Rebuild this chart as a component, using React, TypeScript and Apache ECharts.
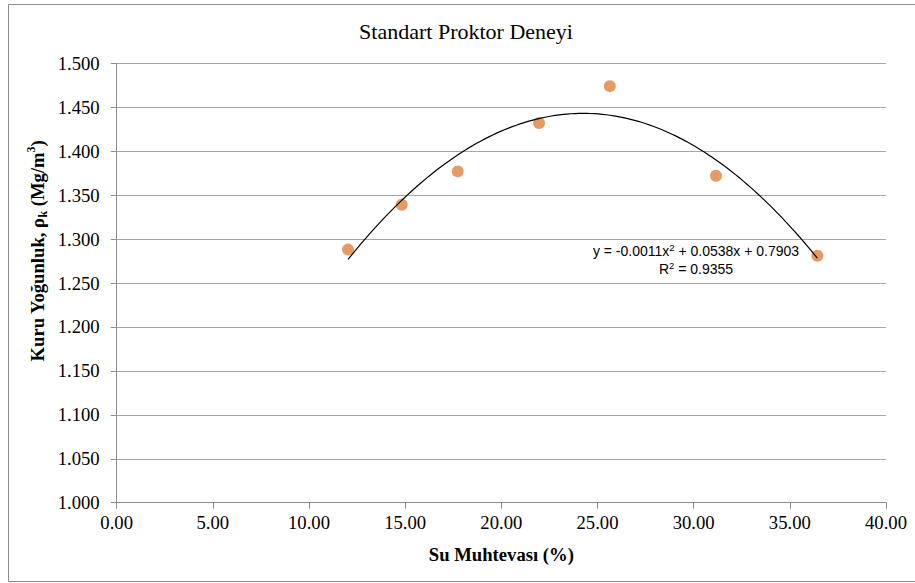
import React, { useEffect, useRef } from "react";
import * as echarts from "echarts";

const titleText = "Standart Proktor Deneyi";
const xAxisName = "Su Muhtevası (%)";
const waterContent = [12.03, 14.82, 17.73, 21.96, 25.64, 31.16, 36.43];
const dryDensity = [1.288, 1.339, 1.377, 1.432, 1.474, 1.372, 1.281];
const equationLabel = "y = -0.0011x{sup|2} + 0.0538x + 0.7903";
const r2Label = "R{sup|2} = 0.9355";

// least-squares quadratic fit of the data (like the spreadsheet's trendline)
function quadFit(xs: number[], ys: number[]) {
  const n = xs.length;
  let s0 = n, s1 = 0, s2 = 0, s3 = 0, s4 = 0, t0 = 0, t1 = 0, t2 = 0;
  for (let i = 0; i < n; i++) {
    const x = xs[i], y = ys[i];
    s1 += x; s2 += x * x; s3 += x * x * x; s4 += x * x * x * x;
    t0 += y; t1 += x * y; t2 += x * x * y;
  }
  const M = [
    [s0, s1, s2, t0],
    [s1, s2, s3, t1],
    [s2, s3, s4, t2],
  ];
  for (let c = 0; c < 3; c++) {
    for (let r = c + 1; r < 3; r++) {
      const f = M[r][c] / M[c][c];
      for (let k = c; k < 4; k++) M[r][k] -= f * M[c][k];
    }
  }
  const sol = [0, 0, 0];
  for (let r = 2; r >= 0; r--) {
    let v = M[r][3];
    for (let k = r + 1; k < 3; k++) v -= M[r][k] * sol[k];
    sol[r] = v / M[r][r];
  }
  return sol; // c0, c1, c2
}

export default function App() {
  const ref = useRef<HTMLDivElement>(null);
  useEffect(() => {
    if (!ref.current) return;
    const chart = echarts.init(ref.current, undefined, { renderer: "svg" });
    const [c0, c1, c2] = quadFit(waterContent, dryDensity);
    const xMin = Math.min(...waterContent);
    const xMax = Math.max(...waterContent);
    const trend: number[][] = [];
    const steps = 120;
    for (let i = 0; i <= steps; i++) {
      const x = xMin + ((xMax - xMin) * i) / steps;
      trend.push([x, c0 + c1 * x + c2 * x * x]);
    }
    const serif = "Liberation Serif, serif";
    const sans = "Liberation Sans, sans-serif";
    chart.setOption({
      animation: false,
      backgroundColor: "#ffffff",
      title: {
        text: titleText,
        left: 461,
        top: 15,
        textAlign: "center",
        textStyle: { fontFamily: serif, fontSize: 22, fontWeight: "normal", color: "#000" },
      },
      grid: { left: 116.7, right: 29, top: 63.3, bottom: 80.3, containLabel: false },
      xAxis: {
        type: "value",
        min: 0,
        max: 40,
        interval: 5,
        name: xAxisName,
        nameLocation: "middle",
        nameGap: 42,
        nameTextStyle: { fontFamily: serif, fontSize: 18.67, fontWeight: "bold", color: "#000" },
        axisLine: { show: true, lineStyle: { color: "#8c8c8c", width: 1 } },
        axisTick: { show: true, length: 6, lineStyle: { color: "#8c8c8c" } },
        axisLabel: {
          margin: 10,
          fontFamily: serif,
          fontSize: 18.67,
          color: "#000",
          formatter: (v: number) => v.toFixed(2),
        },
        splitLine: { show: false },
      },
      yAxis: {
        type: "value",
        min: 1.0,
        max: 1.5,
        interval: 0.05,
        axisLine: { show: true, lineStyle: { color: "#8c8c8c", width: 1 } },
        axisTick: { show: true, length: 6, lineStyle: { color: "#8c8c8c" } },
        axisLabel: {
          margin: 17,
          fontFamily: serif,
          fontSize: 18.67,
          color: "#000",
          formatter: (v: number) => v.toFixed(3),
        },
        splitLine: { show: true, lineStyle: { color: "#a6a6a6", width: 1 } },
      },
      graphic: [
        {
          type: "rect",
          silent: true,
          shape: { x: 8.5, y: 4.5, width: 920, height: 577 },
          style: { fill: "none", stroke: "#8c8c8c", lineWidth: 1 },
        },
        {
          type: "text",
          x: 37,
          y: 251,
          rotation: Math.PI / 2,
          style: {
            text: "{n|Kuru Yoğunluk, ρ}{sub|k}{n| (Mg/m}{sup|3}{n|)}",
            align: "center",
            verticalAlign: "middle",
            rich: {
              n: { fontFamily: serif, fontSize: 18.67, fontWeight: "bold", fill: "#000", lineHeight: 24, verticalAlign: "middle" },
              sub: { fontFamily: serif, fontSize: 12, fontWeight: "bold", fill: "#000", lineHeight: 24, verticalAlign: "bottom", padding: [8, 0, 0, 0] },
              sup: { fontFamily: serif, fontSize: 12, fontWeight: "bold", fill: "#000", lineHeight: 24, verticalAlign: "top", padding: [0, 0, 8, 0] },
            },
          },
        },
        {
          type: "text",
          x: 696,
          y: 260,
          style: {
            text: equationLabel + "\n" + r2Label,
            align: "center",
            verticalAlign: "middle",
            rich: {
              sup: { fontFamily: sans, fontSize: 9.5, fill: "#000", verticalAlign: "top", lineHeight: 18, padding: [0, 0, 6, 0] },
            },
            fontFamily: sans,
            fontSize: 14,
            lineHeight: 18,
            fill: "#000",
          },
        },
      ],
      series: [
        {
          type: "line",
          data: trend,
          showSymbol: false,
          symbol: "none",
          smooth: false,
          lineStyle: { color: "#000", width: 1.2 },
          z: 3,
          silent: true,
        },
        {
          type: "scatter",
          data: waterContent.map((x, i) => [x, dryDensity[i]]),
          symbol: "circle",
          symbolSize: 12,
          itemStyle: { color: "#DD8240" },
          z: 2,
        },
      ],
    });
    return () => chart.dispose();
  }, []);
  return (
    <div
      ref={ref}
      style={{ position: "fixed", left: 0, top: 0, width: 915, height: 583 }}
    />
  );
}
